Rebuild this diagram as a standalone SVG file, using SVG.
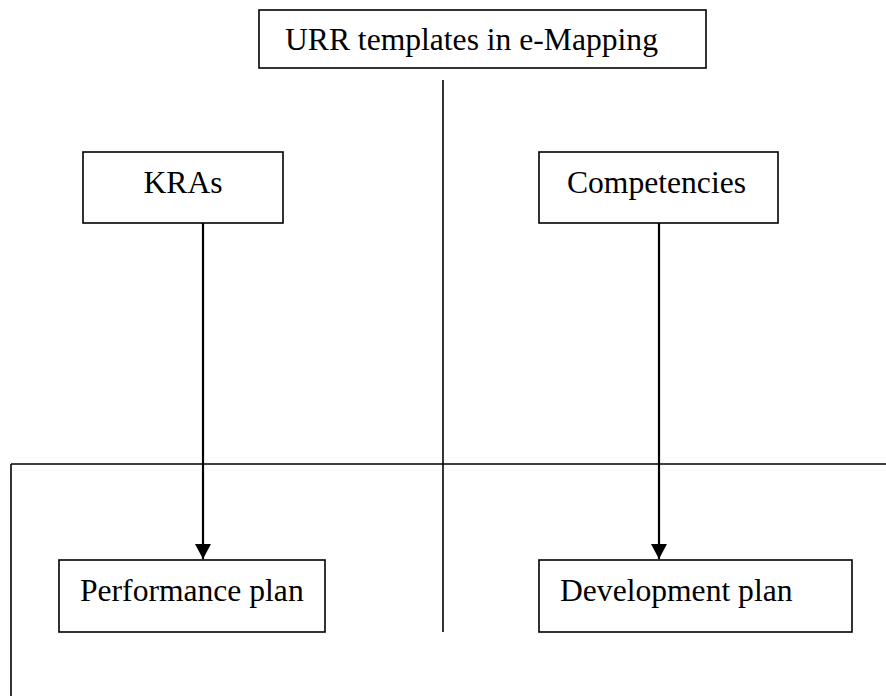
<svg xmlns="http://www.w3.org/2000/svg" width="886" height="696" viewBox="0 0 886 696">
<style>
.box{fill:#fff;stroke:#000;stroke-width:1.6}
.t{font-family:"Liberation Serif",serif;font-size:31.6px;fill:#000}
.ln{stroke:#000;stroke-width:1.6;fill:none}
.ar{stroke:#000;stroke-width:2.2;fill:none}
</style>
<defs>
<marker id="ah" markerUnits="userSpaceOnUse" markerWidth="16" markerHeight="16" refX="15" refY="8" orient="auto" viewBox="0 0 16 16">
<path d="M0,0 L15,8 L0,16 Z" fill="#000"/>
</marker>
</defs>
<g id="connectors">
<line class="ln" x1="443" y1="80" x2="443" y2="632"/>
<line class="ln" x1="11" y1="464" x2="886" y2="464"/>
<line class="ln" x1="11" y1="464" x2="11" y2="696"/>
<line class="ar" x1="203" y1="223" x2="203" y2="559" marker-end="url(#ah)"/>
<line class="ar" x1="659" y1="223" x2="659" y2="559" marker-end="url(#ah)"/>
</g>
<g id="urr">
<rect class="box" x="259" y="10" width="447" height="58"/>
<text class="t" x="285" y="50">URR templates in e-Mapping</text>
</g>
<g id="kras">
<rect class="box" x="83" y="152" width="200" height="71"/>
<text class="t" x="183" y="193" text-anchor="middle">KRAs</text>
</g>
<g id="competencies">
<rect class="box" x="539" y="152" width="239" height="71"/>
<text class="t" x="567" y="193">Competencies</text>
</g>
<g id="performance">
<rect class="box" x="59" y="560" width="266" height="72"/>
<text class="t" x="80" y="601">Performance plan</text>
</g>
<g id="development">
<rect class="box" x="539" y="560" width="313" height="72"/>
<text class="t" x="560" y="601">Development plan</text>
</g>
</svg>
